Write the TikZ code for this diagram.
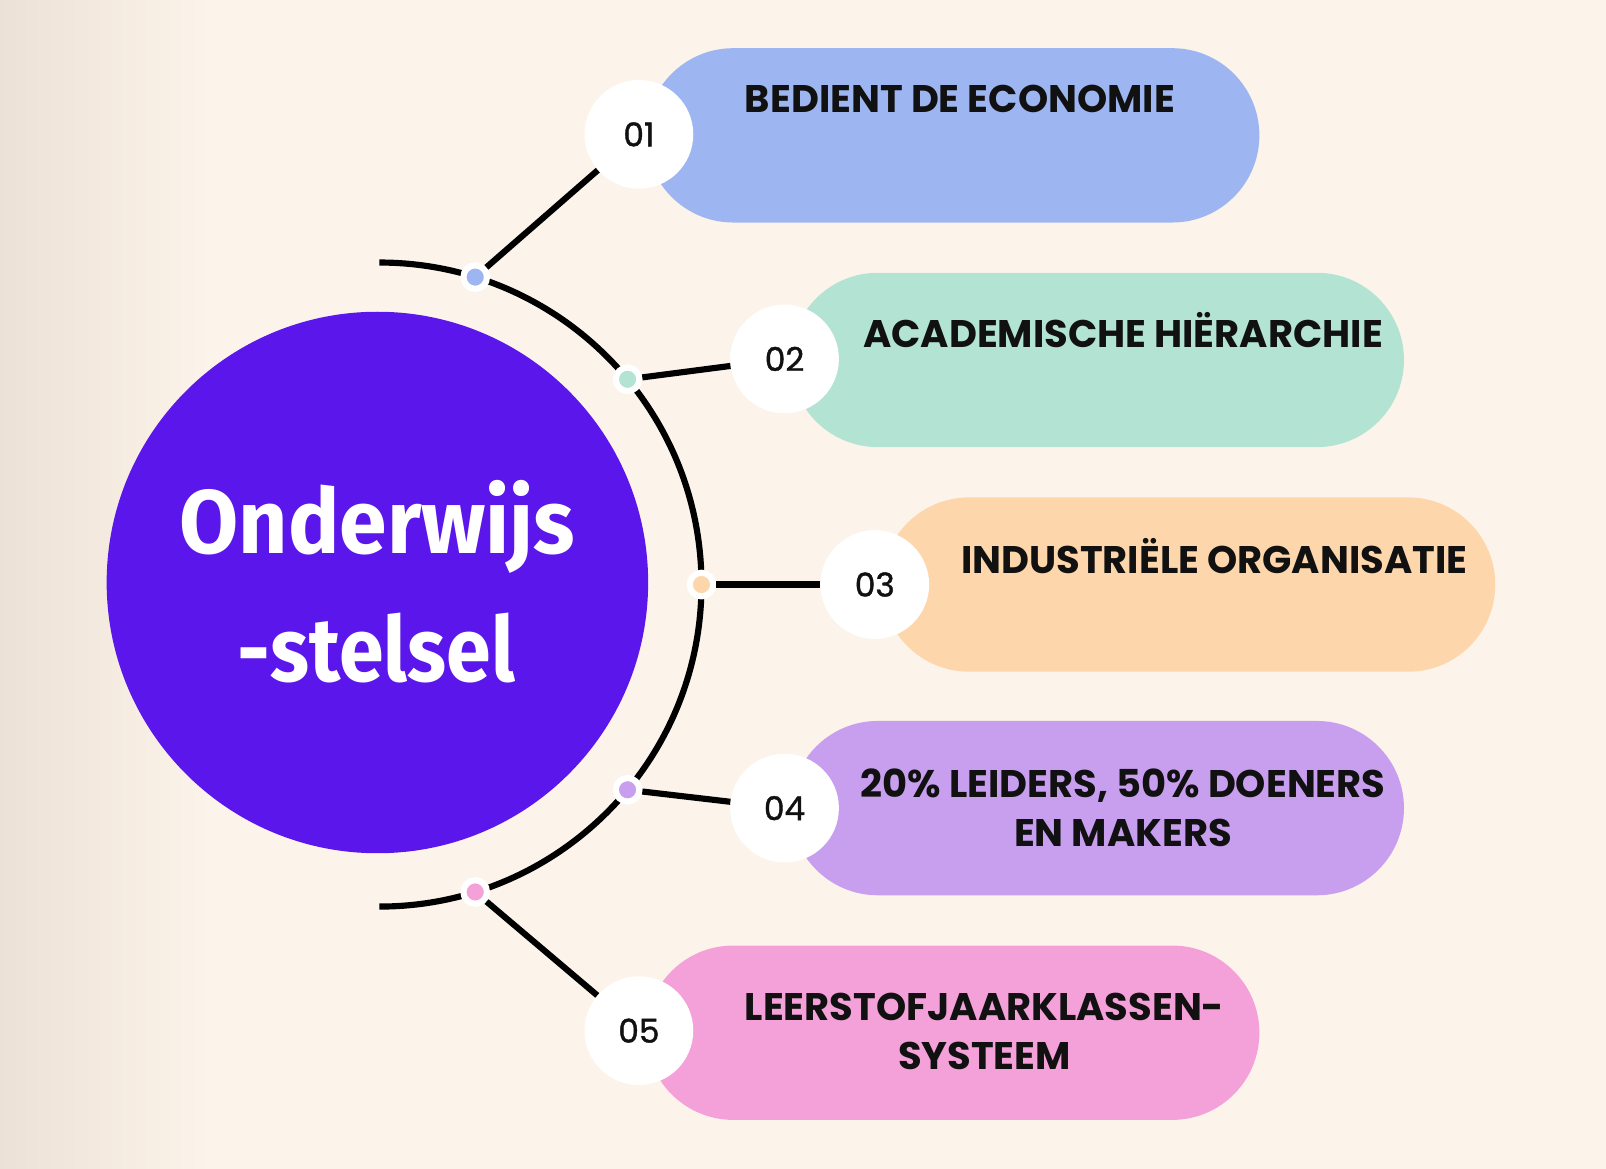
\documentclass[tikz,border=0pt]{standalone}
\usepackage{fontspec}
\newfontfamily\pillfont{Poppins}
\newfontfamily\numfont{Poppins}[FakeBold=1.2]
\newfontfamily\centerfont{Fira Sans}
\usetikzlibrary{calc,fadings}
\definecolor{bgc}{HTML}{F8EEE3}
\definecolor{bgdark}{HTML}{E9DED2}
\definecolor{bglight}{HTML}{FCF3EA}
\definecolor{cA}{HTML}{9DB6F2}
\definecolor{cB}{HTML}{B2E3D3}
\definecolor{cC}{HTML}{FDD6AB}
\definecolor{cD}{HTML}{C89FEE}
\definecolor{cE}{HTML}{F4A1D9}
\definecolor{mainv}{HTML}{5B16EB}
\definecolor{txt}{HTML}{111111}
\tikzset{
  pill/.style={rectangle, rounded corners=85pt, minimum width=598pt, minimum height=170pt, inner sep=0pt},
  numc/.style={circle, fill=white, minimum size=106pt, inner sep=0pt, font=\numfont\fontsize{32}{36}\selectfont, text=txt},
  dotc/.style={circle, draw=white, line width=6pt, minimum size=23pt, inner sep=0pt},
  conn/.style={line width=6pt, black},
  pilltext/.style={anchor=base, inner sep=0pt, text=txt, font=\pillfont\bfseries\fontsize{37.5}{40}\selectfont, xscale=1.0},
  maintext/.style={anchor=base, inner sep=0pt, text=white, font=\centerfont\bfseries\fontsize{88}{90}\selectfont, xscale=0.95}
}
\begin{document}
\begin{tikzpicture}[x=1pt,y=1pt]
\useasboundingbox (0,0) rectangle (1566,1139);
% background
\begin{scope}
\clip (0,0) rectangle (1566,1139);
\fill[bglight] (-20,-20) rectangle (1590,1160);
\shade[top color=bglight, middle color=bgdark, bottom color=bglight, shading angle=-30]
  (-700,-900) rectangle (2300,2000);
\fill[bgdark, path fading=east, opacity=0.9] (-20,-40) rectangle (200,1180);
\end{scope}
% central circle
\node[circle, fill=mainv, minimum size=528pt, inner sep=0pt] (main) at (368,571) {};
\node[maintext] (t1) at (368,599) {Onderwijs};
\node[maintext, xscale=0.94] (t2) at (367,474) {-stelsel};
% arc
\coordinate (A) at (370,569);
\draw[conn] ($(A)+(90:314)$) arc[start angle=90, end angle=-90, radius=314];
% pills
\node[pill, fill=cA] (p1) at (929,1007) {};
\node[pill, fill=cB] (p2) at (1070,788) {};
\node[pill, fill=cC] (p3) at (1159,569) {};
\node[pill, fill=cD] (p4) at (1070,351) {};
\node[pill, fill=cE] (p5) at (929,132) {};
% number circles
\node[numc] (n1) at (623,1008) {01};
\node[numc] (n2) at (765,789) {02};
\node[numc] (n3) at (853,569) {03};
\node[numc] (n4) at (765,351) {04};
\node[numc] (n5) at (623,134) {05};
% dots
\node[dotc, fill=cA] (d1) at ($(A)+(72.7:314)$) {};
\node[dotc, fill=cB] (d2) at ($(A)+(39.6:314)$) {};
\node[dotc, fill=cC] (d3) at ($(A)+(0:314)$) {};
\node[dotc, fill=cD] (d4) at ($(A)+(-39.6:314)$) {};
\node[dotc, fill=cE] (d5) at ($(A)+(-72.7:314)$) {};
% connectors
\draw[conn] (d1) -- (n1);
\draw[conn] (d2) -- (n2);
\draw[conn] (d3) -- (n3);
\draw[conn] (d4) -- (n4);
\draw[conn] (d5) -- (n5);
% pill texts
\node[pilltext] (l1) at (936,1029) {BEDIENT DE ECONOMIE};
\node[pilltext] (l2) at (1095,800) {ACADEMISCHE HIËRARCHIE};
\node[pilltext] (l3) at (1184,580) {INDUSTRIËLE ORGANISATIE};
\node[pilltext] (l4a) at (1095,361) {20\% LEIDERS, 50\% DOENERS};
\node[pilltext] (l4b) at (1095,314) {EN MAKERS};
\node[pilltext] (l5a) at (960,144) {LEERSTOFJAARKLASSEN-};
\node[pilltext] (l5b) at (960,96) {SYSTEEM};
\end{tikzpicture}
\end{document}
